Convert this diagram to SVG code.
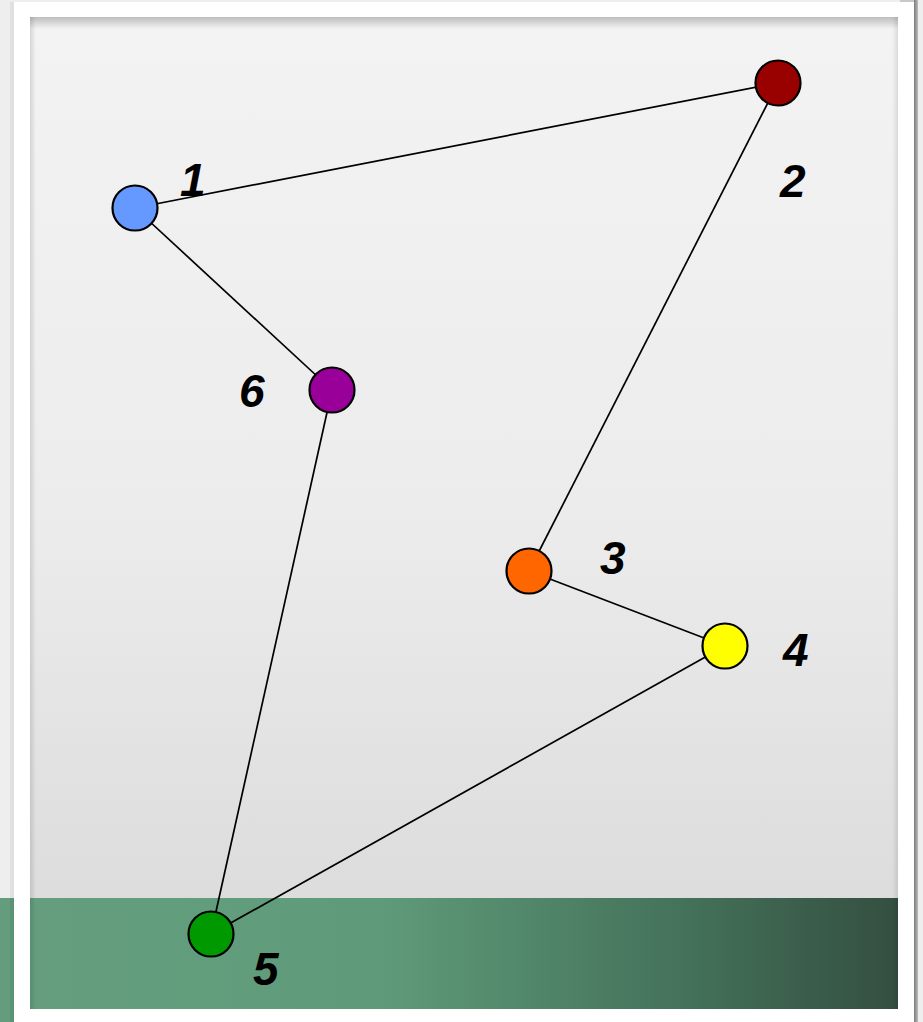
<svg xmlns="http://www.w3.org/2000/svg" width="923" height="1022" viewBox="0 0 923 1022">
<defs>
<linearGradient id="bg" x1="0" y1="0" x2="0" y2="1">
<stop offset="0" stop-color="#f3f3f3"/>
<stop offset="0.5" stop-color="#ececec"/>
<stop offset="1" stop-color="#d8d8d8"/>
</linearGradient>
<linearGradient id="band" x1="0" y1="0" x2="1" y2="0">
<stop offset="0" stop-color="#649e7e"/>
<stop offset="0.4" stop-color="#5f9b7a"/>
<stop offset="0.75" stop-color="#44725a"/>
<stop offset="1" stop-color="#344f41"/>
</linearGradient>
<linearGradient id="topsh" x1="0" y1="0" x2="0" y2="1">
<stop offset="0" stop-color="#000" stop-opacity="0.22"/>
<stop offset="1" stop-color="#000" stop-opacity="0"/>
</linearGradient>
<linearGradient id="leftsh" x1="0" y1="0" x2="1" y2="0">
<stop offset="0" stop-color="#000" stop-opacity="0.12"/>
<stop offset="1" stop-color="#000" stop-opacity="0"/>
</linearGradient>
<linearGradient id="rightsh" x1="0" y1="0" x2="1" y2="0">
<stop offset="0" stop-color="#000" stop-opacity="0"/>
<stop offset="1" stop-color="#000" stop-opacity="0.1"/>
</linearGradient>
<linearGradient id="edge" x1="0" y1="0" x2="1" y2="0">
<stop offset="0" stop-color="#7a7a7a"/>
<stop offset="1" stop-color="#bdbdbd"/>
</linearGradient>
</defs>
<style>
.edge{stroke:#000;stroke-width:1.7;fill:none}
.node{stroke:#000;stroke-width:2.2}
.lbl{font-family:"Liberation Sans",Arial,sans-serif;font-weight:bold;font-style:italic;font-size:46px;fill:#000}
</style>
<g id="background">
<rect x="0" y="0" width="923" height="1022" fill="#eeeeee"/>
<rect x="0" y="898" width="14" height="124" fill="#639d7d"/>
<rect x="10" y="2" width="4" height="1020" fill="#000" opacity="0.06"/>
<rect x="14" y="2" width="900" height="1020" fill="#ffffff"/>
<rect x="914" y="0" width="4" height="1022" fill="url(#edge)"/>
<rect x="900" y="0" width="14" height="2" fill="#c8c8c8"/>
<rect x="30" y="17" width="868" height="992" fill="url(#bg)"/>
<rect x="30" y="898" width="868" height="111" fill="url(#band)"/>
<rect x="30" y="17" width="868" height="12" fill="url(#topsh)"/>
<rect x="30" y="17" width="6" height="992" fill="url(#leftsh)"/>
<rect x="892" y="17" width="6" height="992" fill="url(#rightsh)"/>
</g>
<g id="connectors">
<line class="edge" x1="135" y1="208" x2="778" y2="83"/>
<line class="edge" x1="778" y1="83" x2="529" y2="571"/>
<line class="edge" x1="529" y1="571" x2="725" y2="646"/>
<line class="edge" x1="725" y1="646" x2="211" y2="934"/>
<line class="edge" x1="211" y1="934" x2="332" y2="390"/>
<line class="edge" x1="332" y1="390" x2="135" y2="208"/>
</g>
<g id="node1"><circle class="node" cx="135" cy="208" r="22.5" fill="#6699ff"/><text class="lbl" x="180" y="196">1</text></g>
<g id="node2"><circle class="node" cx="778" cy="83" r="22.5" fill="#990000"/><text class="lbl" x="780" y="197">2</text></g>
<g id="node3"><circle class="node" cx="529" cy="571" r="22.5" fill="#ff6600"/><text class="lbl" x="600" y="574">3</text></g>
<g id="node4"><circle class="node" cx="725" cy="646" r="22.5" fill="#ffff00"/><text class="lbl" x="783" y="666">4</text></g>
<g id="node5"><circle class="node" cx="211" cy="934" r="22.5" fill="#009900"/><text class="lbl" x="253" y="985">5</text></g>
<g id="node6"><circle class="node" cx="332" cy="390" r="22.5" fill="#990099"/><text class="lbl" x="239" y="407">6</text></g>
</svg>
